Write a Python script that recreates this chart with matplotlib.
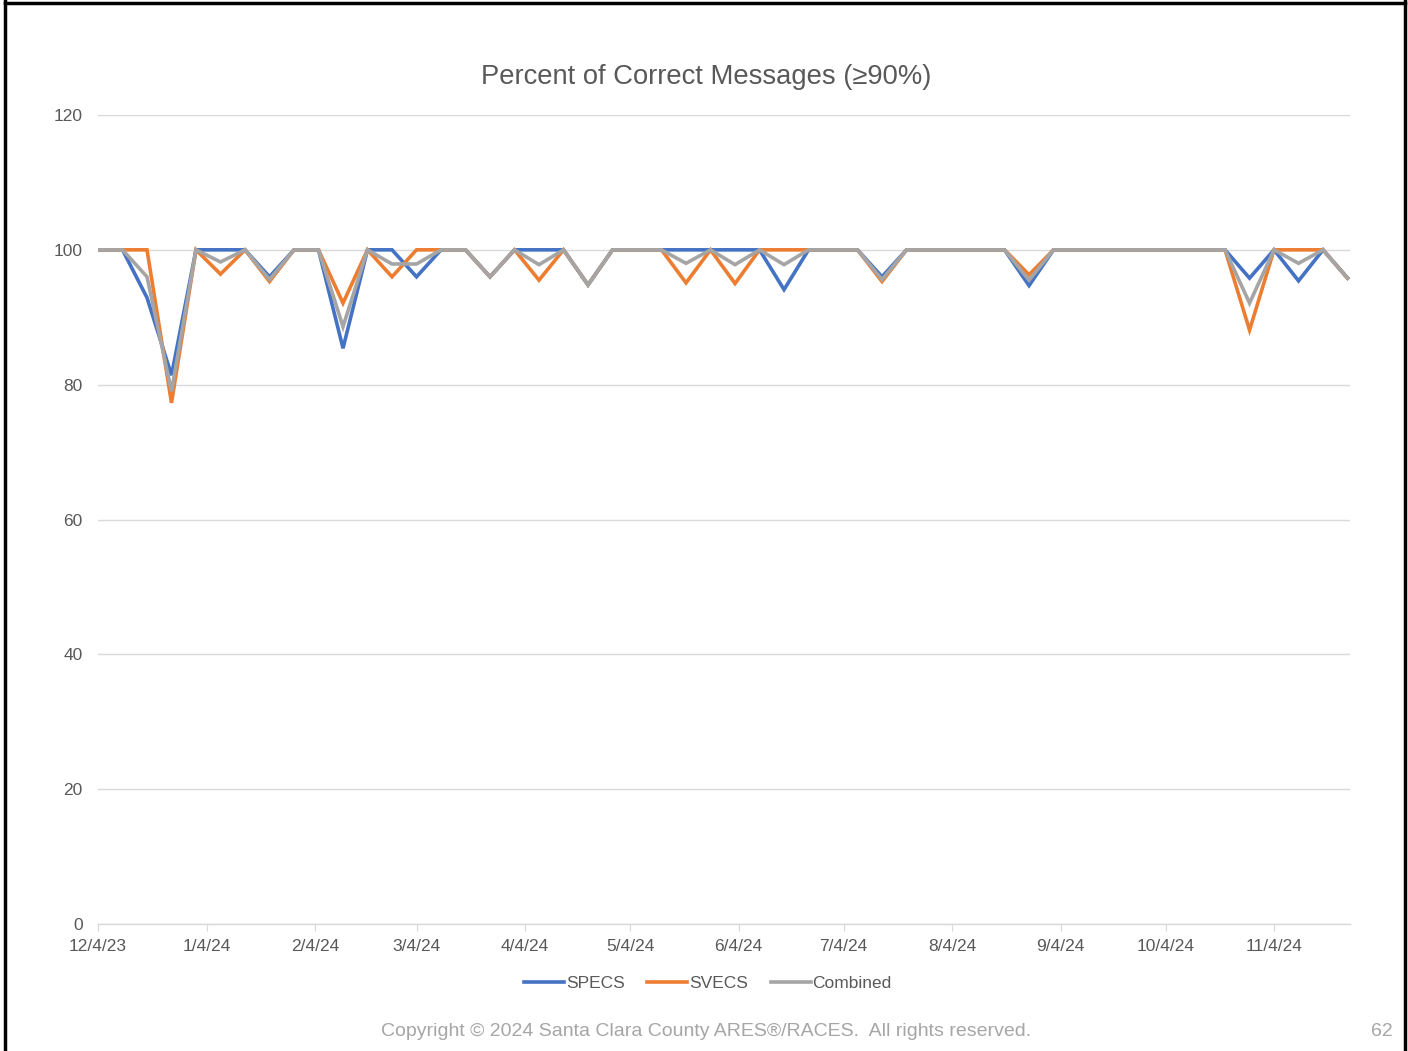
import numpy as np
import pandas as pd
import matplotlib
matplotlib.use("Agg")
import matplotlib.pyplot as plt
from matplotlib.lines import Line2D

plt.rcParams['font.family'] = ['Liberation Sans', 'DejaVu Sans']

# weekly sessions, 12/4/23 .. 11/25/24
dates = pd.date_range("2023-12-04", periods=52, freq="7D")

specs = [100, 100, 92.9, 81.4, 100, 100, 100, 96.0, 100, 100,
         85.4, 100, 100, 96.0, 100, 100, 96.0, 100, 100, 100,
         94.8, 100, 100, 100, 100, 100, 100, 100, 94.1, 100,
         100, 100, 96.0, 100, 100, 100, 100, 100, 94.7, 100,
         100, 100, 100, 100, 100, 100, 100, 95.8, 100, 95.4,
         100, 95.8]
svecs = [100, 100, 100, 77.3, 100, 96.4, 100, 95.3, 100, 100,
         92.1, 100, 96.0, 100, 100, 100, 96.0, 100, 95.5, 100,
         94.8, 100, 100, 100, 95.1, 100, 95.0, 100, 100, 100,
         100, 100, 95.3, 100, 100, 100, 100, 100, 96.3, 100,
         100, 100, 100, 100, 100, 100, 100, 88.1, 100, 100,
         100, 95.8]
combined = [100, 100, 96.0, 79.0, 100, 98.2, 100, 95.6, 100, 100,
            88.6, 100, 97.9, 97.9, 100, 100, 96.0, 100, 97.8, 100,
            94.8, 100, 100, 100, 98.0, 100, 97.8, 100, 97.8, 100,
            100, 100, 95.6, 100, 100, 100, 100, 100, 95.5, 100,
            100, 100, 100, 100, 100, 100, 100, 92.1, 100, 98.0,
            100, 95.8]

# monthly ticks on the 4th: 12/4/23 .. 11/4/24
tick_dates = pd.date_range("2023-12-01", periods=12, freq="MS") + pd.Timedelta(days=3)
tick_labels = [f"{d.month}/{d.day}/{d.strftime('%y')}" for d in tick_dates]

txt = "#595959"
grid = "#d9d9d9"

fig = plt.figure(figsize=(14.08, 10.51), dpi=100)
ax = fig.add_axes([98 / 1408, 1 - 924 / 1051, (1350 - 98) / 1408, (924 - 115) / 1051])

ax.plot(dates, specs, color="#4472C4", lw=2.6, label="SPECS", solid_joinstyle="miter")
ax.plot(dates, svecs, color="#ED7D31", lw=2.6, label="SVECS", solid_joinstyle="miter")
ax.plot(dates, combined, color="#A5A5A5", lw=2.6, label="Combined", solid_joinstyle="miter")

ax.set_ylim(0, 120)
ax.set_yticks(range(0, 121, 20))
ax.set_xticks(tick_dates)
ax.set_xticklabels(tick_labels)
ax.set_xlim(dates[0], dates[-1] + pd.Timedelta(days=0.7))

ax.grid(axis="y", color=grid, lw=1)
ax.set_axisbelow(True)
for s in ["top", "right", "left"]:
    ax.spines[s].set_visible(False)
ax.spines["bottom"].set_color(grid)
ax.spines["bottom"].set_linewidth(1)
ax.tick_params(axis="y", length=0, pad=11, labelsize=12.5, labelcolor=txt)
ax.tick_params(axis="x", length=5, color=grid, pad=6, labelsize=12.5, labelcolor=txt)

fig.text(706 / 1408, 1 - 77 / 1051, "Percent of Correct Messages (\u226590%)",
         ha="center", va="center", fontsize=19.7, color=txt)

leg = fig.legend(loc="center", bbox_to_anchor=(708 / 1408, 1 - 983 / 1051), ncol=3,
                 frameon=False, fontsize=12.5, handlelength=2.3, handletextpad=0.1,
                 columnspacing=1.3)
for t in leg.get_texts():
    t.set_color(txt)

fig.text(706 / 1408, 1 - 1031 / 1051,
         "Copyright \u00a9 2024 Santa Clara County ARES\u00ae/RACES.  All rights reserved.",
         ha="center", va="center", fontsize=14, color="#a6a6a6")
fig.text(1382 / 1408, 1 - 1031 / 1051, "62", ha="center", va="center",
         fontsize=14, color="#a6a6a6")

# slide frame
for xs, ys in [([5, 5], [0, 1051]), ([1405, 1405], [0, 1051]), ([5, 1405], [2.5, 2.5])]:
    fig.add_artist(Line2D([x / 1408 for x in xs], [1 - y / 1051 for y in ys],
                          color="black", lw=2.5, transform=fig.transFigure))

fig.savefig("out.png", dpi=100, facecolor="white")
